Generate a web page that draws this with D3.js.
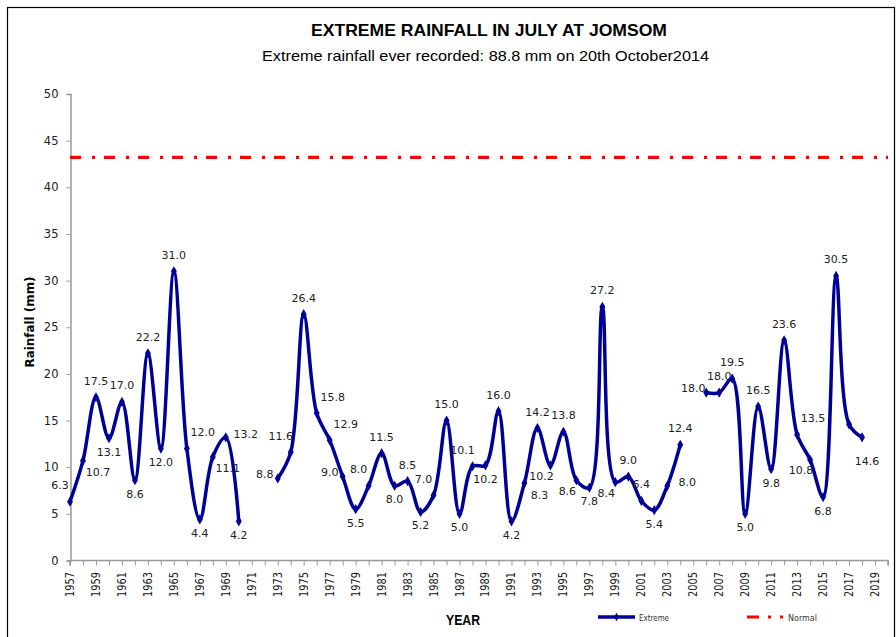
<!DOCTYPE html>
<html>
<head>
<meta charset="utf-8">
<script src="https://cdn.jsdelivr.net/npm/d3@7"></script>
<style>
  body { margin: 0; background: #fff; }
  svg { display: block; }
</style>
</head>
<body>
<div id="chart"></div>
<script>
// categories (1957..2020), one per tick
const years = [
  1957, 1958, 1959, 1960, 1961, 1962, 1963, 1964, 1965, 1966, 1967, 1968, 1969, 1970,
  1971, 1972, 1973, 1974, 1975, 1976, 1977, 1978, 1979, 1980, 1981, 1982, 1983, 1984,
  1985, 1986, 1987, 1988, 1989, 1990, 1991, 1992, 1993, 1994, 1995, 1996, 1997, 1998,
  1999, 2000, 2001, 2002, 2003, 2004, 2005, 2006, 2007, 2008, 2009, 2010, 2011, 2012,
  2013, 2014, 2015, 2016, 2017, 2018, 2019, 2020
];

// extreme July rainfall (mm), null = missing
const extreme = [
  6.3, 10.7, 17.5, 13.1, 17.0, 8.6, 22.2, 12.0, 31.0, 12.0, 4.4, 11.1, 13.2, 4.2,
  null, null, 8.8, 11.6, 26.4, 15.8, 12.9, 9.0, 5.5, 8.0, 11.5, 8.0, 8.5, 5.2,
  7.0, 15.0, 5.0, 10.1, 10.2, 16.0, 4.2, 8.3, 14.2, 10.2, 13.8, 8.6, 7.8, 27.2,
  8.4, 9.0, 6.4, 5.4, 8.0, 12.4, null, 18.0, 18.0, 19.5, 5.0, 16.5, 9.8, 23.6,
  13.5, 10.8, 6.8, 30.5, 14.6, 13.2, null, null
];

// normal value (flat line)
const normal = 43.2;

const yTicks = [0, 5, 10, 15, 20, 25, 30, 35, 40, 45, 50];
const xTickLabels = years.filter((y, i) => i % 2 === 0 && y <= 2019);

// where each data label sits relative to its point
const labelPlace = [
  "al", "br", "a", "b", "a", "b", "a", "b", "a", "ar", "b", "br", "r", "b",
  null, null, "l", "al", "a", "ar", "ar", "l", "b", "al", "a", "b", "a", "b",
  "al", "a", "b", "al", "b", "a", "b", "br", "a", "bl", "a", "bl", "b", "a",
  "bl", "a", "a", "b", "r", "a", null, "l", "a", "a", "b", "a", "b", "a",
  "ar", "bl", "b", "a", "bfar", null, null, null
];
const placeOffset = {
  a: [0, -16], b: [0, 14], l: [-13, -4], r: [20, -3],
  al: [-10, -16], ar: [16, -16], bl: [-9, 11], br: [15, 12], bfar: [18, 37]
};

const W = 896, H = 637;

const svg = d3.select("#chart").append("svg")
  .attr("width", W)
  .attr("height", H);

svg.append("rect")
  .attr("x", 7.5).attr("y", 7.5)
  .attr("width", 887).attr("height", 700)
  .attr("fill", "#fff")
  .attr("stroke", "#000")
  .attr("stroke-width", 1.2);

const x = d3.scalePoint()
  .domain(years)
  .range([70, 888]);

const y = d3.scaleLinear()
  .domain([0, 50])
  .range([560.5, 94]);

// titles
svg.append("text")
  .attr("x", 311).attr("y", 36)
  .attr("textLength", 356).attr("lengthAdjust", "spacingAndGlyphs")
  .style("font", "bold 16.5px 'Liberation Sans', Arial, sans-serif")
  .attr("fill", "#000")
  .text("EXTREME RAINFALL  IN JULY AT JOMSOM");

svg.append("text")
  .attr("x", 262).attr("y", 61)
  .attr("textLength", 447).attr("lengthAdjust", "spacingAndGlyphs")
  .style("font", "15px 'Liberation Sans', Arial, sans-serif")
  .attr("fill", "#000")
  .text("Extreme rainfall ever recorded: 88.8 mm on 20th October2014");

// y axis
const yAxis = svg.append("g")
  .attr("transform", "translate(70.5,0)")
  .call(d3.axisLeft(y).tickValues(yTicks).tickSize(4).tickPadding(8).tickFormat(d3.format("d")));
yAxis.select(".domain").attr("stroke", "#999").attr("stroke-width", 1.5);
yAxis.selectAll(".tick line").attr("stroke", "#999");
yAxis.selectAll(".tick text")
  .style("font", "11.5px 'DejaVu Sans', Verdana, sans-serif")
  .attr("fill", "#222");

// x axis
const xAxis = svg.append("g")
  .attr("transform", "translate(0,560.5)")
  .call(d3.axisBottom(x).tickSize(5).tickFormat(""));
xAxis.select(".domain").attr("stroke", "#999").attr("stroke-width", 1.5)
  .attr("d", "M70,5V0H888V5");
xAxis.selectAll(".tick line").attr("stroke", "#999");

svg.append("g").selectAll("text")
  .data(xTickLabels)
  .join("text")
  .attr("transform", d => `translate(${x(d) + 4},572) rotate(-90)`)
  .attr("text-anchor", "end")
  .attr("textLength", 25).attr("lengthAdjust", "spacingAndGlyphs")
  .style("font", "12px 'DejaVu Sans', Verdana, sans-serif")
  .attr("fill", "#222")
  .text(d => d);

// axis titles
svg.append("text")
  .attr("transform", "translate(34,322) rotate(-90)")
  .attr("text-anchor", "middle")
  .attr("textLength", 91).attr("lengthAdjust", "spacingAndGlyphs")
  .style("font", "bold 13px 'DejaVu Sans', Verdana, sans-serif")
  .attr("fill", "#000")
  .text("Rainfall (mm)");

svg.append("text")
  .attr("x", 446).attr("y", 625)
  .attr("textLength", 34).attr("lengthAdjust", "spacingAndGlyphs")
  .style("font", "bold 14px 'Liberation Sans', Arial, sans-serif")
  .attr("fill", "#000")
  .text("YEAR");

// normal line
svg.append("line")
  .attr("x1", 70).attr("x2", 888)
  .attr("y1", y(normal)).attr("y2", y(normal))
  .attr("stroke", "#ff0000")
  .attr("stroke-width", 3.2)
  .attr("stroke-dasharray", "11,11,3,9");

// extreme series
const pts = years.map((yr, i) => ({ yr, v: extreme[i], place: labelPlace[i] }));

const line = d3.line()
  .defined(d => d.v != null)
  .x(d => x(d.yr))
  .y(d => y(d.v))
  .curve(d3.curveCatmullRom.alpha(0.5));

const navy = "#000099";

svg.append("path")
  .datum(pts)
  .attr("d", line)
  .attr("fill", "none")
  .attr("stroke", navy)
  .attr("stroke-width", 3.5)
  .attr("stroke-linejoin", "round");

const valid = pts.filter(d => d.v != null);

svg.append("g").selectAll("path")
  .data(valid)
  .join("path")
  .attr("transform", d => `translate(${x(d.yr)},${y(d.v)})`)
  .attr("d", d3.symbol(d3.symbolDiamond, 30))
  .attr("fill", navy);

svg.append("g").selectAll("text")
  .data(valid.filter(d => d.place))
  .join("text")
  .attr("x", d => x(d.yr) + placeOffset[d.place][0])
  .attr("y", d => y(d.v) + placeOffset[d.place][1])
  .attr("text-anchor", "middle")
  .attr("dominant-baseline", "central")
  .style("font", "11px 'DejaVu Sans', Verdana, sans-serif")
  .attr("fill", "#222")
  .text(d => d3.format(".1f")(d.v));

// legend
const lg = svg.append("g");
lg.append("line")
  .attr("x1", 598).attr("x2", 635).attr("y1", 617).attr("y2", 617)
  .attr("stroke", navy).attr("stroke-width", 3.5);
lg.append("path")
  .attr("transform", "translate(616.5,617)")
  .attr("d", d3.symbol(d3.symbolDiamond, 20))
  .attr("fill", navy);
lg.append("text")
  .attr("x", 639).attr("y", 621)
  .style("font", "9px 'DejaVu Sans', Verdana, sans-serif")
  .attr("textLength", 30).attr("lengthAdjust", "spacingAndGlyphs")
  .attr("fill", "#333")
  .text("Extreme");
lg.append("line")
  .attr("x1", 747).attr("x2", 786).attr("y1", 617).attr("y2", 617)
  .attr("stroke", "#ff0000").attr("stroke-width", 3.2)
  .attr("stroke-dasharray", "12,9,3,9,3,9");
lg.append("text")
  .attr("x", 788).attr("y", 621)
  .style("font", "9px 'DejaVu Sans', Verdana, sans-serif")
  .attr("textLength", 29).attr("lengthAdjust", "spacingAndGlyphs")
  .attr("fill", "#333")
  .text("Normal");
</script>
</body>
</html>
